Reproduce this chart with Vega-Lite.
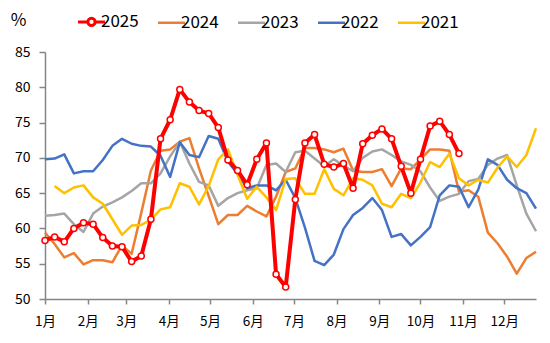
{
  "$schema": "https://vega.github.io/schema/vega-lite/v6.json",
  "width": 491,
  "height": 247,
  "autosize": {"type": "none"},
  "padding": {"left": 45, "top": 52, "right": 14, "bottom": 44},
  "background": "white",
  "config": {
    "view": {"stroke": null},
    "font": "Noto Sans CJK SC",
    "axis": {"grid": false, "domainColor": "#868686", "tickColor": "#868686", "labelColor": "#000000", "domainWidth": 1.5, "tickWidth": 1.5}
  },
  "data": {
    "values": [
      {"date": "2025-01-01", "2025": 58.3, "2024": 59.4, "2023": 61.8, "2022": 69.8, "2021": null},
      {"date": "2025-01-08", "2025": 58.8, "2024": 57.8, "2023": 61.9, "2022": 69.9, "2021": 66.0},
      {"date": "2025-01-15", "2025": 58.1, "2024": 55.9, "2023": 62.1, "2022": 70.5, "2021": 65.0},
      {"date": "2025-01-22", "2025": 60.0, "2024": 56.5, "2023": 60.6, "2022": 67.8, "2021": 65.8},
      {"date": "2025-01-29", "2025": 60.8, "2024": 54.9, "2023": 59.5, "2022": 68.1, "2021": 66.1},
      {"date": "2025-02-05", "2025": 60.6, "2024": 55.5, "2023": 62.1, "2022": 68.1, "2021": 64.4},
      {"date": "2025-02-12", "2025": 58.7, "2024": 55.5, "2023": 63.1, "2022": 69.7, "2021": 63.5},
      {"date": "2025-02-19", "2025": 57.5, "2024": 55.2, "2023": 63.7, "2022": 71.7, "2021": 61.3},
      {"date": "2025-02-26", "2025": 57.4, "2024": 57.6, "2023": 64.4, "2022": 72.7, "2021": 59.1},
      {"date": "2025-03-05", "2025": 55.3, "2024": 56.4, "2023": 65.3, "2022": 72.0, "2021": 60.4},
      {"date": "2025-03-12", "2025": 56.1, "2024": 62.2, "2023": 66.4, "2022": 71.7, "2021": 60.5},
      {"date": "2025-03-19", "2025": 61.3, "2024": 68.2, "2023": 66.4, "2022": 71.6, "2021": 61.2},
      {"date": "2025-03-26", "2025": 72.7, "2024": 71.0, "2023": 67.8, "2022": 70.3, "2021": 62.7},
      {"date": "2025-04-02", "2025": 75.4, "2024": 71.2, "2023": 70.2, "2022": 67.3, "2021": 63.0},
      {"date": "2025-04-09", "2025": 79.7, "2024": 72.3, "2023": 72.3, "2022": 72.2, "2021": 66.4},
      {"date": "2025-04-16", "2025": 77.9, "2024": 72.8, "2023": 69.2, "2022": 70.4, "2021": 65.9},
      {"date": "2025-04-23", "2025": 76.7, "2024": 68.5, "2023": 66.6, "2022": 70.1, "2021": 63.4},
      {"date": "2025-04-30", "2025": 76.3, "2024": 64.6, "2023": 66.1, "2022": 73.1, "2021": 66.0},
      {"date": "2025-05-07", "2025": 74.3, "2024": 60.6, "2023": 63.2, "2022": 72.7, "2021": 69.8},
      {"date": "2025-05-14", "2025": 69.7, "2024": 61.9, "2023": 64.3, "2022": 69.5, "2021": 71.2},
      {"date": "2025-05-21", "2025": 68.2, "2024": 61.9, "2023": 65.0, "2022": 67.7, "2021": 67.6},
      {"date": "2025-05-28", "2025": 66.2, "2024": 63.2, "2023": 65.4, "2022": 65.7, "2021": 64.2},
      {"date": "2025-06-04", "2025": 69.8, "2024": 62.4, "2023": 65.7, "2022": 66.1, "2021": 65.9},
      {"date": "2025-06-11", "2025": 72.1, "2024": 61.7, "2023": 69.0, "2022": 66.1, "2021": 64.4},
      {"date": "2025-06-18", "2025": 53.5, "2024": 64.5, "2023": 69.2, "2022": 65.4, "2021": 62.6},
      {"date": "2025-06-25", "2025": 51.7, "2024": 68.0, "2023": 68.0, "2022": 66.9, "2021": 67.0},
      {"date": "2025-07-02", "2025": 64.1, "2024": 68.5, "2023": 70.8, "2022": 64.3, "2021": 67.1},
      {"date": "2025-07-09", "2025": 72.1, "2024": 71.4, "2023": 71.0, "2022": 60.1, "2021": 64.9},
      {"date": "2025-07-16", "2025": 73.3, "2024": 71.4, "2023": 69.9, "2022": 55.4, "2021": 64.9},
      {"date": "2025-07-23", "2025": 69.1, "2024": 71.2, "2023": 68.8, "2022": 54.8, "2021": 68.4},
      {"date": "2025-07-30", "2025": 68.7, "2024": 70.8, "2023": 69.8, "2022": 56.3, "2021": 65.6},
      {"date": "2025-08-06", "2025": 69.2, "2024": 71.3, "2023": 68.9, "2022": 59.9, "2021": 64.7},
      {"date": "2025-08-13", "2025": 65.7, "2024": 68.2, "2023": 68.1, "2022": 61.9, "2021": 67.1},
      {"date": "2025-08-20", "2025": 72.0, "2024": 68.0, "2023": 70.0, "2022": 62.9, "2021": 66.9},
      {"date": "2025-08-27", "2025": 73.2, "2024": 68.0, "2023": 70.9, "2022": 64.3, "2021": 66.1},
      {"date": "2025-09-03", "2025": 74.1, "2024": 68.4, "2023": 71.2, "2022": 62.6, "2021": 63.5},
      {"date": "2025-09-10", "2025": 72.7, "2024": 66.0, "2023": 70.4, "2022": 58.8, "2021": 63.0},
      {"date": "2025-09-17", "2025": 68.8, "2024": 68.5, "2023": 69.5, "2022": 59.2, "2021": 64.9},
      {"date": "2025-09-24", "2025": 65.0, "2024": 68.4, "2023": 69.0, "2022": 57.6, "2021": 64.3},
      {"date": "2025-10-01", "2025": 69.8, "2024": 69.8, "2023": 68.1, "2022": 58.8, "2021": 66.5},
      {"date": "2025-10-08", "2025": 74.5, "2024": 71.2, "2023": 65.8, "2022": 60.2, "2021": 69.4},
      {"date": "2025-10-15", "2025": 75.2, "2024": 71.2, "2023": 63.9, "2022": 64.7, "2021": 68.7},
      {"date": "2025-10-22", "2025": 73.3, "2024": 71.0, "2023": 64.5, "2022": 66.1, "2021": 70.6},
      {"date": "2025-10-29", "2025": 70.6, "2024": 65.2, "2023": 64.9, "2022": 65.9, "2021": 67.1},
      {"date": "2025-11-05", "2025": null, "2024": 65.4, "2023": 66.7, "2022": 63.0, "2021": 66.1},
      {"date": "2025-11-12", "2025": null, "2024": 64.5, "2023": 67.0, "2022": 65.5, "2021": 66.9},
      {"date": "2025-11-19", "2025": null, "2024": 59.4, "2023": 69.0, "2022": 69.8, "2021": 66.5},
      {"date": "2025-11-26", "2025": null, "2024": 57.9, "2023": 69.9, "2022": 69.0, "2021": 68.6},
      {"date": "2025-12-03", "2025": null, "2024": 56.0, "2023": 70.4, "2022": 66.9, "2021": 70.2},
      {"date": "2025-12-10", "2025": null, "2024": 53.6, "2023": 66.1, "2022": 65.7, "2021": 68.7},
      {"date": "2025-12-17", "2025": null, "2024": 55.8, "2023": 62.1, "2022": 65.0, "2021": 70.4},
      {"date": "2025-12-24", "2025": null, "2024": 56.7, "2023": 59.6, "2022": 62.8, "2021": 74.2}
    ]
  },
  "transform": [
    {"fold": ["2025", "2024", "2023", "2022", "2021"], "as": ["series", "value"]},
    {"filter": "isValid(datum.value)"}
  ],
  "encoding": {
    "x": {
      "field": "date",
      "type": "temporal",
      "scale": {"type": "utc", "domain": [{"year": 2025, "month": 1, "date": 1, "utc": true}, {"year": 2025, "month": 12, "date": 24, "utc": true}]},
      "axis": {
        "title": null,
        "labelExpr": "(utcmonth(datum.value) + 1) + '月'",
        "values": [
          {"year": 2025, "month": 1, "date": 1, "utc": true},
          {"year": 2025, "month": 2, "date": 1, "utc": true},
          {"year": 2025, "month": 3, "date": 1, "utc": true},
          {"year": 2025, "month": 4, "date": 1, "utc": true},
          {"year": 2025, "month": 5, "date": 1, "utc": true},
          {"year": 2025, "month": 6, "date": 1, "utc": true},
          {"year": 2025, "month": 7, "date": 1, "utc": true},
          {"year": 2025, "month": 8, "date": 1, "utc": true},
          {"year": 2025, "month": 9, "date": 1, "utc": true},
          {"year": 2025, "month": 10, "date": 1, "utc": true},
          {"year": 2025, "month": 11, "date": 1, "utc": true},
          {"year": 2025, "month": 12, "date": 1, "utc": true}
        ],
        "tickSize": 5,
        "labelPadding": 10,
        "labelFontSize": 13.5,
        "labelFlush": false,
        "labelOverlap": false
      }
    },
    "y": {
      "field": "value",
      "type": "quantitative",
      "scale": {"domain": [50, 85], "nice": false, "zero": false},
      "axis": {
        "values": [50, 55, 60, 65, 70, 75, 80, 85],
        "tickSize": 6,
        "labelPadding": 9,
        "labelFontSize": 14,
        "title": "%",
        "titleAngle": 0,
        "titleX": -27,
        "titleY": -32,
        "titleAlign": "center",
        "titleBaseline": "middle",
        "titleFontSize": 17,
        "titleFontWeight": "normal",
        "titleColor": "#000000"
      }
    }
  },
  "layer": [
    {
      "transform": [{"filter": "datum.series != '2025'"}],
      "mark": {"type": "line", "strokeWidth": 2.5, "strokeJoin": "round"},
      "encoding": {
        "color": {
          "field": "series",
          "type": "nominal",
          "scale": {"domain": ["2025", "2024", "2023", "2022", "2021"], "range": ["#FF0000", "#ED7D31", "#A5A5A5", "#4472C4", "#FFC000"]},
          "legend": {
            "title": null,
            "orient": "none",
            "direction": "horizontal",
            "legendX": 38,
            "legendY": -39,
            "labelFontSize": 17,
            "labelColor": "#000000",
            "labelOffset": 1,
            "columnPadding": 14,
            "symbolType": "stroke",
            "symbolSize": 729,
            "symbolStrokeWidth": 2.5,
            "padding": 0,
            "encode": {
              "symbols": {
                "update": {
                  "shape": {"signal": "datum.value == '2025' ? 'M-1,0L-0.27,0M0.27,0L1,0M0.27,0A0.27,0.27,0,1,1,-0.27,0A0.27,0.27,0,1,1,0.27,0' : 'stroke'"},
                  "strokeWidth": {"signal": "datum.value == '2025' ? 3 : 2.5"},
                  "fill": {"value": "white"},
                  "fillOpacity": {"value": 1}
                }
              }
            }
          }
        }
      }
    },
    {
      "transform": [{"filter": "datum.series == '2025'"}],
      "mark": {"type": "line", "strokeWidth": 4, "strokeJoin": "round"},
      "encoding": {
        "color": {"field": "series", "type": "nominal"}
      }
    },
    {
      "transform": [{"filter": "datum.series == '2025'"}],
      "mark": {"type": "point", "filled": true, "fill": "white", "stroke": "#FF0000", "strokeWidth": 1.5, "size": 36, "opacity": 1},
      "encoding": {}
    }
  ]
}
